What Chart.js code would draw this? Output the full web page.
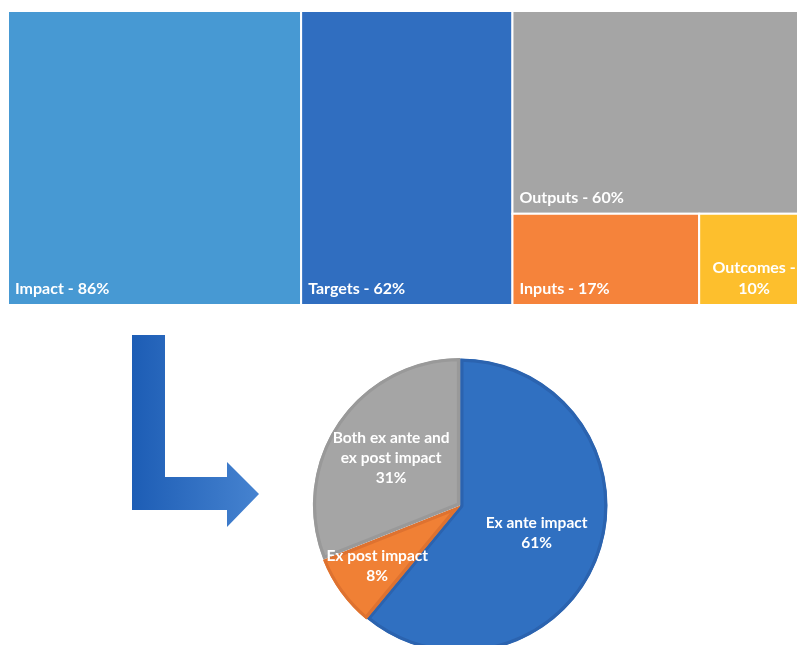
<!DOCTYPE html>
<html>
<head>
<meta charset="utf-8">
<script src="https://cdn.jsdelivr.net/npm/chart.js@4.4.1/dist/chart.umd.min.js"></script>
<style>
  html, body { margin:0; padding:0; width:797px; height:645px; overflow:hidden; background:#fff; }
  #treemap { position:absolute; left:8px; top:11px; }
  #arrow { position:absolute; left:0; top:0; }
  #pie { position:absolute; left:312px; top:357px; }
</style>
</head>
<body>
<canvas id="treemap" width="801" height="294"></canvas>
<svg id="arrow" width="300" height="560">
  <defs>
    <linearGradient id="arrowGrad" x1="132" y1="0" x2="259" y2="0" gradientUnits="userSpaceOnUse">
      <stop offset="0" stop-color="#1d5db5"/>
      <stop offset="1" stop-color="#4683d0"/>
    </linearGradient>
  </defs>
  <polygon points="132,335 165,335 165,477 227,477 227,462 259,494 227,527 227,510 132,510" fill="url(#arrowGrad)"/>
</svg>
<canvas id="pie" width="297" height="297"></canvas>
<script>
(function(){
  const el = id => document.getElementById(id);

  // treemap data
  const treeLabels = ['Impact', 'Targets', 'Outputs', 'Inputs', 'Outcomes'];
  const treeValues = [86, 62, 60, 17, 10];
  const treeColors = ['#4799d3', '#306ec0', '#a5a5a5', '#f5833b', '#fdbf2d'];

  // pie data
  const pieLabels = ['Ex ante impact', 'Ex post impact', 'Both ex ante and ex post impact'];
  const pieValues = [61, 8, 31];
  const pieColors = ['#3070c1', '#f08035', '#a5a5a5'];
  const pieBorders = ['#2b63af', '#de7230', '#999999'];

  function wrap(ctx, text, maxW){
    const words = text.split(' ');
    const lines = [];
    let cur = '';
    words.forEach(w => {
      const t = cur ? cur + ' ' + w : w;
      if(cur && ctx.measureText(t).width > maxW){ lines.push(cur); cur = w; }
      else cur = t;
    });
    if(cur) lines.push(cur);
    return lines;
  }

  // squarified layout, in pixel units of the area (near-square leftovers get a row on top)
  function worst(row, side){
    const s = row.reduce((a, b) => a + b, 0);
    const mx = Math.max(...row), mn = Math.min(...row);
    return Math.max(side * side * mx / (s * s), (s * s) / (side * side * mn));
  }
  function squarify(areas, x, y, w, h){
    const rects = [];
    let i = 0;
    while(i < areas.length){
      const vertical = w > h * 1.05;
      const side = vertical ? h : w;
      let row = [areas[i].a];
      let j = i + 1;
      while(j < areas.length){
        const next = row.concat(areas[j].a);
        if(worst(next, side) <= worst(row, side)){ row = next; j++; } else break;
      }
      const s = row.reduce((a, b) => a + b, 0);
      const thick = s / side;
      let off = 0;
      for(let k = i; k < j; k++){
        const len = areas[k].a / thick;
        if(vertical) rects[areas[k].i] = { x: x, y: y + off, w: thick, h: len };
        else rects[areas[k].i] = { x: x + off, y: y, w: len, h: thick };
        off += len;
      }
      if(vertical){ x += thick; w -= thick; } else { y += thick; h -= thick; }
      i = j;
    }
    return rects;
  }

  const treemapPlugin = {
    id: 'treemapCells',
    afterDatasetsDraw(chart){
      const ctx = chart.ctx;
      const xs = chart.scales.x, ys = chart.scales.y;
      const W = chart.chartArea.width, H = chart.chartArea.height;
      const total = treeValues.reduce((a, b) => a + b, 0);
      const items = treeValues.map((v, i) => ({ i: i, a: v / total * W * H })).sort((a, b) => b.a - a.a);
      const rects = squarify(items, 0, 0, W, H);
      ctx.save();
      rects.forEach((r, i) => {
        const x0 = xs.getPixelForValue(r.x / W), x1 = xs.getPixelForValue((r.x + r.w) / W);
        const y0 = ys.getPixelForValue(r.y / H), y1 = ys.getPixelForValue((r.y + r.h) / H);
        ctx.fillStyle = treeColors[i];
        ctx.fillRect(x0, y0, x1 - x0, y1 - y0);
        ctx.strokeStyle = '#ffffff';
        ctx.lineWidth = 2;
        ctx.strokeRect(x0, y0, x1 - x0, y1 - y0);
        // label
        ctx.fillStyle = '#ffffff';
        ctx.font = 'bold 16px Lato';
        ctx.textBaseline = 'alphabetic';
        const text = treeLabels[i] + ' - ' + treeValues[i] + '%';
        if(ctx.measureText(text).width <= (x1 - x0) - 14){
          ctx.textAlign = 'left';
          ctx.fillText(text, x0 + 7, y1 - 11);
        } else {
          ctx.textAlign = 'center';
          const lines = wrap(ctx, text, (x1 - x0) - 8);
          lines.forEach((ln, k) => {
            ctx.fillText(ln, (x0 + x1) / 2, y1 - 11 - (lines.length - 1 - k) * 21);
          });
        }
      });
      ctx.restore();
    }
  };

  new Chart(el('treemap'), {
    type: 'scatter',
    data: { datasets: [{ data: [] }] },
    options: {
      responsive: false, animation: false,
      layout: { padding: 0 },
      scales: {
        x: { display: false, min: 0, max: 1 },
        y: { display: false, min: 0, max: 1, reverse: true }
      },
      plugins: { legend: { display: false }, tooltip: { enabled: false } }
    },
    plugins: [treemapPlugin]
  });

  const pieLabelPlugin = {
    id: 'pieLabels',
    afterDatasetsDraw(chart){
      const ctx = chart.ctx;
      const meta = chart.getDatasetMeta(0);
      const total = pieValues.reduce((a, b) => a + b, 0);
      ctx.save();
      ctx.fillStyle = '#ffffff';
      ctx.font = 'bold 15.5px Lato';
      ctx.textAlign = 'center';
      ctx.textBaseline = 'middle';
      meta.data.forEach((arc, i) => {
        const p = arc.getProps(['x', 'y', 'startAngle', 'endAngle', 'outerRadius'], true);
        const mid = (p.startAngle + p.endAngle) / 2;
        // small slices push the label outward (best fit)
        const f = (p.endAngle - p.startAngle) < Math.PI / 4 ? 0.68 : 0.55;
        const d = p.outerRadius * f + (arc.options.offset || 0);
        const cx = p.x + Math.cos(mid) * d, cy = p.y + Math.sin(mid) * d;
        const lines = wrap(ctx, pieLabels[i], 128);
        lines.push(Math.round(pieValues[i] / total * 100) + '%');
        const lh = 20;
        lines.forEach((ln, k) => {
          ctx.fillText(ln, cx, cy + (k - (lines.length - 1) / 2) * lh);
        });
      });
      ctx.restore();
    }
  };

  new Chart(el('pie'), {
    type: 'pie',
    data: {
      labels: pieLabels,
      datasets: [{
        data: pieValues,
        backgroundColor: pieColors,
        borderColor: pieBorders,
        borderWidth: 3,
        borderAlign: 'inner',
        offset: [0, 3, 3]
      }]
    },
    options: {
      responsive: false, animation: false,
      layout: { padding: 0 },
      plugins: { legend: { display: false }, tooltip: { enabled: false } }
    },
    plugins: [pieLabelPlugin]
  });
})();
</script>
</body>
</html>
